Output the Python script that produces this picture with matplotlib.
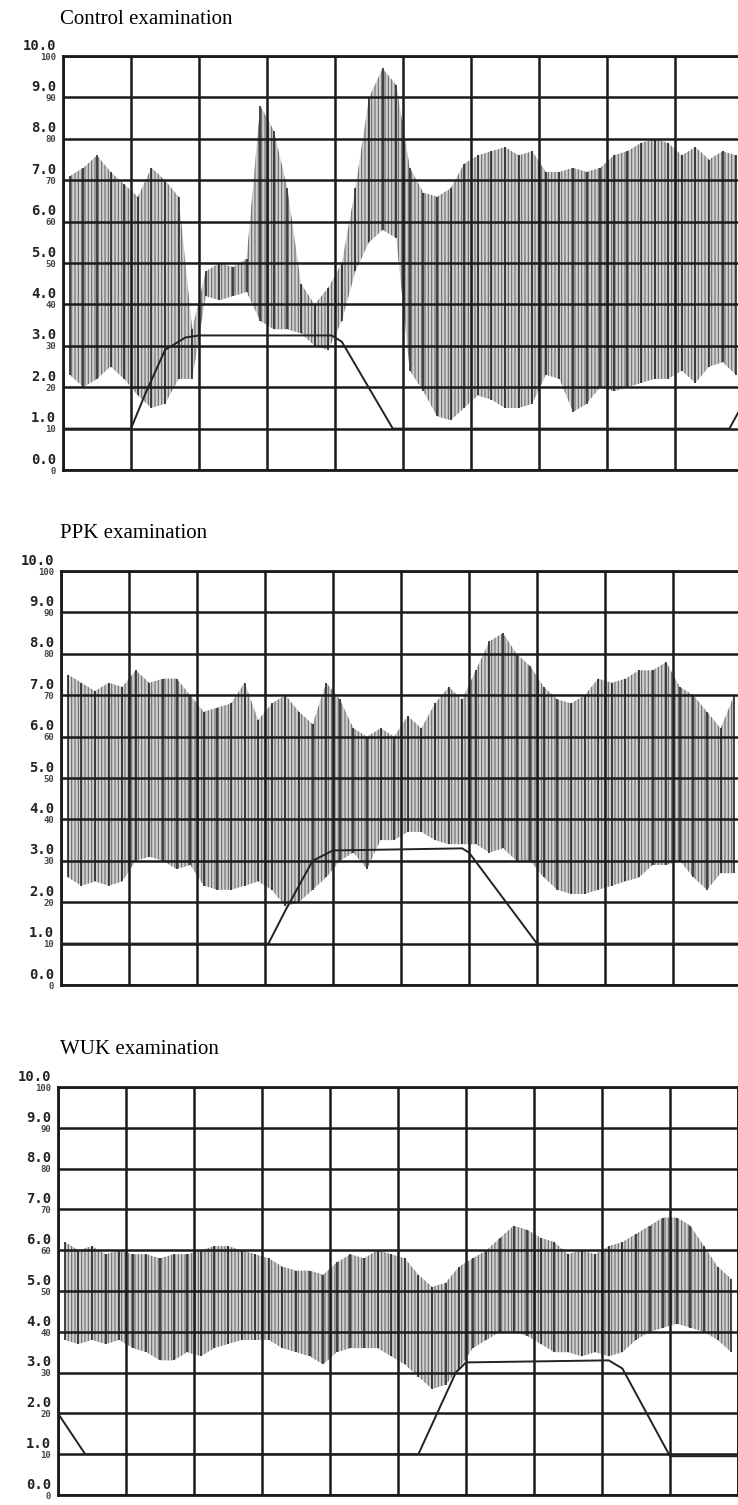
import numpy as np
import matplotlib
matplotlib.use("Agg")
import matplotlib.pyplot as plt

plt.rcParams["hatch.linewidth"] = 0.8

# panel titles
titles = ["Control examination", "PPK examination", "WUK examination"]

# stroke positions along the recording (grid columns 0..10)
stroke_x = np.arange(0.1, 10.0, 0.2)

# upper / lower envelope of the oscillating trace, one value per stroke
ctrl_upper = [7.1, 7.3, 7.6, 7.2, 6.9, 6.6, 7.3, 7.0, 6.6, 3.4,
              4.8, 5.0, 4.9, 5.1, 8.8, 8.2, 6.8, 4.5, 4.0, 4.4,
              5.0, 6.8, 9.0, 9.7, 9.3, 7.3, 6.7, 6.6, 6.8, 7.4,
              7.6, 7.7, 7.8, 7.6, 7.7, 7.2, 7.2, 7.3, 7.2, 7.3,
              7.6, 7.7, 7.9, 8.0, 7.9, 7.6, 7.8, 7.5, 7.7, 7.6]
ctrl_lower = [2.3, 2.0, 2.2, 2.5, 2.2, 1.8, 1.5, 1.6, 2.2, 2.2,
              4.2, 4.1, 4.2, 4.3, 3.6, 3.4, 3.4, 3.3, 3.0, 2.9,
              3.6, 4.8, 5.5, 5.8, 5.6, 2.4, 1.9, 1.3, 1.2, 1.5,
              1.8, 1.7, 1.5, 1.5, 1.6, 2.3, 2.2, 1.4, 1.6, 2.0,
              1.9, 2.0, 2.1, 2.2, 2.2, 2.4, 2.1, 2.5, 2.6, 2.3]

ppk_upper = [7.5, 7.3, 7.1, 7.3, 7.2, 7.6, 7.3, 7.4, 7.4, 7.0,
             6.6, 6.7, 6.8, 7.3, 6.4, 6.8, 7.0, 6.6, 6.3, 7.3,
             6.9, 6.2, 6.0, 6.2, 6.0, 6.5, 6.2, 6.8, 7.2, 6.9,
             7.6, 8.3, 8.5, 8.0, 7.7, 7.2, 6.9, 6.8, 7.0, 7.4,
             7.3, 7.4, 7.6, 7.6, 7.8, 7.2, 7.0, 6.6, 6.2, 7.0]
ppk_lower = [2.6, 2.4, 2.5, 2.4, 2.5, 3.0, 3.1, 3.0, 2.8, 2.9,
             2.4, 2.3, 2.3, 2.4, 2.5, 2.3, 1.9, 2.0, 2.3, 2.6,
             3.0, 3.2, 2.8, 3.5, 3.5, 3.7, 3.7, 3.5, 3.4, 3.4,
             3.4, 3.2, 3.3, 3.0, 3.0, 2.6, 2.3, 2.2, 2.2, 2.3,
             2.4, 2.5, 2.6, 2.9, 2.9, 3.0, 2.6, 2.3, 2.7, 2.7]

wuk_upper = [6.2, 6.0, 6.1, 5.9, 6.0, 5.9, 5.9, 5.8, 5.9, 5.9,
             6.0, 6.1, 6.1, 6.0, 5.9, 5.8, 5.6, 5.5, 5.5, 5.4,
             5.7, 5.9, 5.8, 6.0, 5.9, 5.8, 5.4, 5.1, 5.2, 5.6,
             5.8, 6.0, 6.3, 6.6, 6.5, 6.3, 6.2, 5.9, 6.0, 5.9,
             6.1, 6.2, 6.4, 6.6, 6.8, 6.8, 6.6, 6.1, 5.6, 5.3]
wuk_lower = [3.8, 3.7, 3.8, 3.7, 3.8, 3.6, 3.5, 3.3, 3.3, 3.5,
             3.4, 3.6, 3.7, 3.8, 3.8, 3.8, 3.6, 3.5, 3.4, 3.2,
             3.5, 3.6, 3.6, 3.6, 3.4, 3.2, 2.9, 2.6, 2.7, 3.1,
             3.6, 3.8, 4.0, 4.0, 3.9, 3.7, 3.5, 3.5, 3.4, 3.5,
             3.4, 3.5, 3.8, 4.0, 4.1, 4.2, 4.1, 4.0, 3.8, 3.5]

# stimulus (pressure) line
ctrl_stim_x = [0, 1.0, 1.2, 1.5, 1.8, 2.0, 3.95, 4.1, 4.85, 5.1, 9.8, 10]
ctrl_stim_y = [1, 1, 1.8, 2.9, 3.2, 3.25, 3.25, 3.1, 1.0, 1.0, 1.0, 1.6]
ppk_stim_x = [0, 3.05, 3.3, 3.7, 4.0, 5.9, 6.0, 7.0, 10]
ppk_stim_y = [1, 1, 1.8, 3.0, 3.25, 3.3, 3.2, 1.0, 1.0]
wuk_stim_x = [0, 0.4, 5.3, 5.85, 6.0, 8.1, 8.3, 9.0, 10]
wuk_stim_y = [2.0, 1.0, 1.0, 3.0, 3.25, 3.3, 3.1, 0.95, 0.95]

# y-axis labels (two scales)
major_labels = ["%d.0" % v for v in range(11)]
minor_labels = ["0", "10", "20", "30", "40", "50", "60", "70", "80", "90", "100"]

panels = [
    (ctrl_upper, ctrl_lower, ctrl_stim_x, ctrl_stim_y),
    (ppk_upper, ppk_lower, ppk_stim_x, ppk_stim_y),
    (wuk_upper, wuk_lower, wuk_stim_x, wuk_stim_y),
]

W, H = 738, 1505
# (left, top, bottom) in pixels
boxes = [(63, 56, 470), (61, 571, 985), (58, 1087, 1495)]
title_y = [20, 533, 1050]

fig = plt.figure(figsize=(W / 100, H / 100), dpi=100)

for i, (upper, lower, sx, sy) in enumerate(panels):
    left, top, bottom = boxes[i]
    ax = fig.add_axes([left / W, 1 - bottom / H, 680 / W, (bottom - top) / H])
    ax.set_xlim(0, 10)
    ax.set_ylim(0, 10)

    ax.fill_between(stroke_x, lower, upper, facecolor="#d0d0d0", edgecolor="#6a6a6a",
                    hatch="|||||", linewidth=0, zorder=1)
    ax.vlines(stroke_x, lower, upper, color="#2a2a2a", lw=1.2, zorder=2)
    ax.plot(sx, sy, color="#222222", lw=1.4, zorder=3)

    ax.set_xticks(range(11))
    ax.set_yticks(range(11))
    ax.grid(True, color="#1a1a1a", lw=1.8, zorder=0)
    ax.set_axisbelow(False)
    ax.tick_params(length=0, labelbottom=False, labelleft=False)
    for sp in ax.spines.values():
        sp.set_linewidth(2)
        sp.set_color("#1a1a1a")

    for v in range(11):
        ax.text(-0.1, v + 0.08, major_labels[v], transform=ax.transData,
                ha="right", va="bottom", fontsize=10, fontweight="bold",
                family="DejaVu Sans Mono", color="#222222")
        ax.text(-0.1, v + 0.08, minor_labels[v], transform=ax.transData,
                ha="right", va="top", fontsize=6.5, fontweight="bold",
                family="DejaVu Sans Mono", color="#444444")

    fig.text(60 / W, 1 - title_y[i] / H, titles[i], ha="left", va="center",
             fontsize=15, family="Liberation Serif")

fig.savefig("out.png", dpi=100)
